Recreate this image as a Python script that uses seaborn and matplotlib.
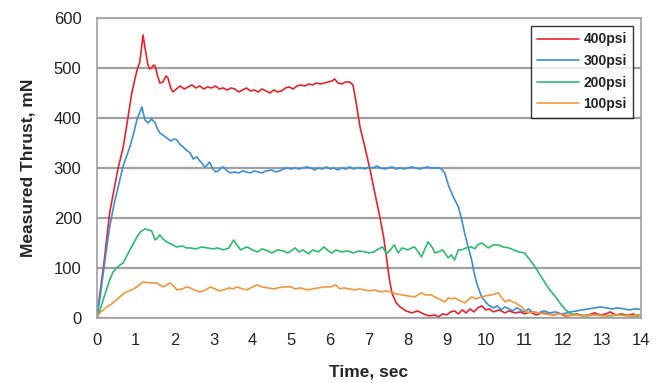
import pandas as pd
import seaborn as sns
import matplotlib.pyplot as plt

# Thrust traces (time in s, thrust in mN)
t_400 = [0.0, 0.1, 0.2, 0.33, 0.45, 0.55, 0.68, 0.8, 0.9, 0.98, 1.05, 1.1, 1.15, 1.19, 1.24, 1.31, 1.36, 1.41,
         1.46, 1.5, 1.56, 1.62, 1.7, 1.78, 1.83, 1.9, 1.96, 2.05, 2.14, 2.25, 2.35, 2.45, 2.55, 2.65, 2.75, 2.85,
         2.95, 3.05, 3.15, 3.25, 3.35, 3.45, 3.55, 3.65, 3.75, 3.85, 3.95, 4.05, 4.15, 4.25, 4.35, 4.45, 4.55,
         4.65, 4.75, 4.85, 4.95, 5.05, 5.15, 5.25, 5.35, 5.45, 5.55, 5.65, 5.75, 5.85, 5.95, 6.05, 6.12, 6.2,
         6.3, 6.4, 6.5, 6.59, 6.65, 6.77, 6.9, 7.03, 7.15, 7.28, 7.38, 7.46, 7.52, 7.59, 7.7, 7.8, 7.95, 8.1,
         8.25, 8.4, 8.55, 8.7, 8.78, 8.9, 9.0, 9.1, 9.2, 9.3, 9.4, 9.5, 9.6, 9.7, 9.8, 9.9, 10.0, 10.1, 10.2,
         10.35, 10.5, 10.6, 10.75, 10.9, 11.0, 11.15, 11.3, 11.45, 11.6, 11.75, 11.9, 12.05, 12.2, 12.35, 12.5,
         12.65, 12.8, 12.95, 13.1, 13.2, 13.35, 13.5, 13.65, 13.8, 13.9, 14.0]
v_400 = [0, 60, 120, 210, 260, 300, 342, 400, 450, 478, 500, 510, 540, 566, 540, 508, 498, 500,
         506, 504, 485, 470, 472, 484, 480, 460, 452, 458, 464, 458, 462, 466, 460, 464, 458, 462,
         460, 464, 458, 460, 456, 460, 458, 452, 456, 460, 454, 456, 452, 458, 454, 450, 456,
         452, 454, 460, 462, 458, 464, 466, 464, 468, 466, 470, 468, 470, 472, 474, 478, 470,
         468, 472, 472, 466, 440, 382, 340, 296, 250, 202, 160, 116, 80, 50, 30, 22, 14, 10,
         14, 8, 4, 6, 2, 8, 6, 12, 14, 8, 16, 10, 18, 12, 20, 24, 16, 18, 12,
         16, 10, 14, 10, 12, 8, 12, 6, 10, 8, 6, 8, 4, 5, 8, 4,
         6, 10, 6, 8, 12, 6, 8, 5, 8, 4, 6]

t_300 = [0.0, 0.1, 0.2, 0.33, 0.45, 0.55, 0.67, 0.76, 0.85, 0.95, 1.03, 1.1, 1.16, 1.2, 1.24, 1.32, 1.41, 1.5,
         1.56, 1.62, 1.7, 1.8, 1.9, 2.0, 2.06, 2.15, 2.22, 2.3, 2.4, 2.48, 2.57, 2.65, 2.7, 2.77, 2.82, 2.9,
         2.97, 3.05, 3.12, 3.2, 3.26, 3.35, 3.45, 3.55, 3.65, 3.75, 3.85, 3.95, 4.05, 4.15, 4.25, 4.35, 4.5,
         4.6, 4.7, 4.8, 4.9, 5.0, 5.1, 5.2, 5.3, 5.4, 5.5, 5.6, 5.7, 5.8, 5.9, 6.0, 6.1, 6.2, 6.3, 6.4, 6.5,
         6.6, 6.7, 6.8, 6.9, 7.0, 7.1, 7.2, 7.3, 7.4, 7.5, 7.6, 7.7, 7.8, 7.9, 8.0, 8.1, 8.2, 8.3, 8.4, 8.5,
         8.6, 8.7, 8.8, 8.86, 8.95, 9.05, 9.17, 9.3, 9.38, 9.46, 9.55, 9.64, 9.7, 9.77, 9.85, 9.9, 10.0, 10.07,
         10.2, 10.3, 10.4, 10.5, 10.6, 10.7, 10.8, 10.9, 11.0, 11.1, 11.2, 11.35, 11.5, 11.65, 11.8, 11.95,
         12.1, 12.2, 12.35, 12.5, 12.65, 12.8, 12.95, 13.1, 13.25, 13.4, 13.55, 13.7, 13.85, 14.0]
v_300 = [0, 50, 110, 182, 230, 262, 302, 322, 342, 370, 396, 410, 422, 408, 396, 390, 398, 390,
         378, 370, 366, 360, 354, 358, 356, 346, 342, 336, 330, 318, 322, 314, 310, 302, 304, 312,
         300, 292, 294, 300, 302, 294, 290, 292, 290, 294, 292, 290, 294, 292, 290, 294, 296,
         292, 294, 298, 300, 298, 300, 298, 300, 302, 300, 296, 300, 298, 302, 298, 300, 296, 300, 298, 302,
         298, 300, 300, 298, 302, 300, 304, 300, 298, 300, 302, 298, 300, 298, 300, 302, 300, 298, 300, 302,
         300, 300, 300, 298, 290, 264, 242, 222, 198, 170, 142, 116, 92, 70, 52, 42, 32, 26,
         20, 24, 16, 22, 18, 14, 20, 16, 12, 18, 12, 10, 14, 10, 12, 8,
         10, 12, 14, 16, 18, 20, 22, 20, 18, 20, 18, 16, 18, 17]

t_200 = [0.0, 0.1, 0.2, 0.33, 0.42, 0.51, 0.6, 0.68, 0.77, 0.85, 0.95, 1.03, 1.12, 1.24, 1.33, 1.41, 1.5, 1.56,
         1.62, 1.7, 1.8, 1.9, 2.06, 2.2, 2.3, 2.4, 2.55, 2.7, 2.84, 3.0, 3.1, 3.26, 3.4, 3.52, 3.6, 3.7, 3.8,
         3.87, 4.0, 4.13, 4.25, 4.4, 4.5, 4.65, 4.8, 4.91, 5.0, 5.1, 5.2, 5.3, 5.45, 5.55, 5.7, 5.84, 5.95,
         6.05, 6.15, 6.3, 6.45, 6.6, 6.75, 6.9, 7.0, 7.13, 7.25, 7.35, 7.45, 7.55, 7.65, 7.75, 7.85, 8.0, 8.1,
         8.17, 8.25, 8.35, 8.45, 8.52, 8.62, 8.7, 8.78, 8.9, 9.04, 9.12, 9.2, 9.3, 9.38, 9.5, 9.64, 9.72, 9.8,
         9.9, 10.0, 10.07, 10.2, 10.33, 10.45, 10.6, 10.72, 10.85, 11.0, 11.1, 11.2, 11.27, 11.4, 11.53, 11.65,
         11.8, 11.95, 12.06, 12.2, 12.4, 12.6, 12.8, 13.0, 13.2, 13.4, 13.6, 13.8, 14.0]
v_200 = [0, 20, 45, 76, 92, 100, 106, 110, 124, 136, 150, 162, 172, 178, 176, 174, 156, 160,
         166, 158, 152, 148, 142, 144, 140, 140, 138, 142, 140, 138, 140, 136, 140, 156, 146, 136, 140,
         142, 136, 132, 138, 134, 130, 136, 134, 130, 134, 140, 132, 136, 128, 136, 132, 142, 134,
         130, 136, 132, 134, 130, 134, 132, 130, 132, 138, 142, 128, 136, 146, 130, 140, 136, 140,
         142, 134, 122, 140, 152, 142, 130, 132, 136, 120, 126, 116, 136, 136, 140, 142, 138, 146,
         150, 144, 140, 146, 146, 142, 140, 136, 132, 130, 120, 110, 102, 86, 70, 56,
         42, 26, 16, 8, 6, 4, 6, 5, 4, 6, 5, 4, 5]

t_100 = [0.0, 0.1, 0.17, 0.25, 0.35, 0.5, 0.65, 0.77, 0.9, 1.03, 1.12, 1.2, 1.35, 1.54, 1.62, 1.71, 1.8, 1.88,
         1.97, 2.06, 2.2, 2.3, 2.4, 2.5, 2.66, 2.8, 2.92, 3.05, 3.15, 3.26, 3.4, 3.5, 3.61, 3.75, 3.87, 4.0,
         4.13, 4.25, 4.4, 4.55, 4.65, 4.8, 4.99, 5.1, 5.25, 5.4, 5.55, 5.7, 5.85, 6.02, 6.15, 6.25, 6.36, 6.5,
         6.65, 6.75, 6.87, 7.0, 7.15, 7.3, 7.45, 7.57, 7.7, 7.85, 8.0, 8.17, 8.35, 8.45, 8.6, 8.69, 8.8, 8.95,
         9.04, 9.12, 9.2, 9.3, 9.46, 9.55, 9.64, 9.75, 9.9, 10.0, 10.15, 10.33, 10.42, 10.5, 10.6, 10.7, 10.77,
         10.85, 10.93, 11.0, 11.1, 11.25, 11.37, 11.5, 11.7, 11.9, 12.1, 12.3, 12.5, 12.7, 12.9, 13.1, 13.3,
         13.5, 13.7, 13.9, 14.0]
v_100 = [0, 12, 16, 22, 26, 36, 46, 52, 56, 62, 68, 72, 70, 70, 66, 62, 66, 70,
         64, 56, 58, 62, 60, 56, 52, 56, 62, 58, 54, 56, 60, 58, 62, 58, 56, 62,
         66, 62, 60, 58, 60, 62, 62, 58, 60, 56, 58, 60, 62, 62, 66, 58, 60, 58,
         56, 58, 56, 54, 56, 52, 54, 52, 48, 46, 44, 42, 50, 46, 46, 42, 38, 32,
         40, 38, 40, 36, 30, 36, 42, 38, 42, 44, 46, 50, 40, 32, 36, 32, 30,
         26, 22, 16, 10, 12, 10, 8, 6, 8, 5, 6, 4, 6, 5, 4, 6,
         5, 4, 6, 5]

labels = ["400psi", "300psi", "200psi", "100psi"]
colors = ["#e8232c", "#3a8fd6", "#2dbb6f", "#f3973a"]

frames = []
for lab, t, v in zip(labels, [t_400, t_300, t_200, t_100], [v_400, v_300, v_200, v_100]):
    frames.append(pd.DataFrame({"time": t, "thrust": v, "pressure": lab}))
df = pd.concat(frames, ignore_index=True)

sns.set_style("white")
plt.rcParams["font.family"] = ["Liberation Sans", "DejaVu Sans"]

fig = plt.figure(figsize=(6.63, 3.83), dpi=100)
ax = fig.add_axes([0.146, 0.170, 0.821, 0.783])

sns.lineplot(data=df, x="time", y="thrust", hue="pressure", hue_order=labels,
             palette=dict(zip(labels, colors)), estimator=None, sort=False,
             linewidth=1.2, ax=ax)

ax.set_xlim(0, 14)
ax.set_ylim(0, 600)
ax.set_xticks(range(0, 15))
ax.set_yticks(range(0, 601, 100))
ax.yaxis.grid(True, color="#a0a0a0", linewidth=1.6)
ax.set_axisbelow(True)
for s in ax.spines.values():
    s.set_color("#a0a0a0")
    s.set_linewidth(1.2)
ax.tick_params(axis="x", direction="out", length=4, color="#a0a0a0", labelsize=12, labelcolor="#222222", pad=7)
ax.tick_params(axis="y", length=0, labelsize=12, labelcolor="#222222", pad=11)

ax.set_xlabel("Time, sec", fontsize=12.5, fontweight="bold", labelpad=12)
ax.set_ylabel("Measured Thrust, mN", fontsize=12.5, fontweight="bold", labelpad=13)

leg = ax.legend(loc="upper right", bbox_to_anchor=(0.998, 0.996), frameon=True, fancybox=False,
                edgecolor="black", prop={"size": 10, "weight": "bold"}, handlelength=3.0,
                labelspacing=0.55, borderpad=0.45, handletextpad=0.35)
leg.get_frame().set_linewidth(1.0)
for txt in leg.get_texts():
    txt.set_color("#222222")

fig.savefig("out.png", dpi=100)
